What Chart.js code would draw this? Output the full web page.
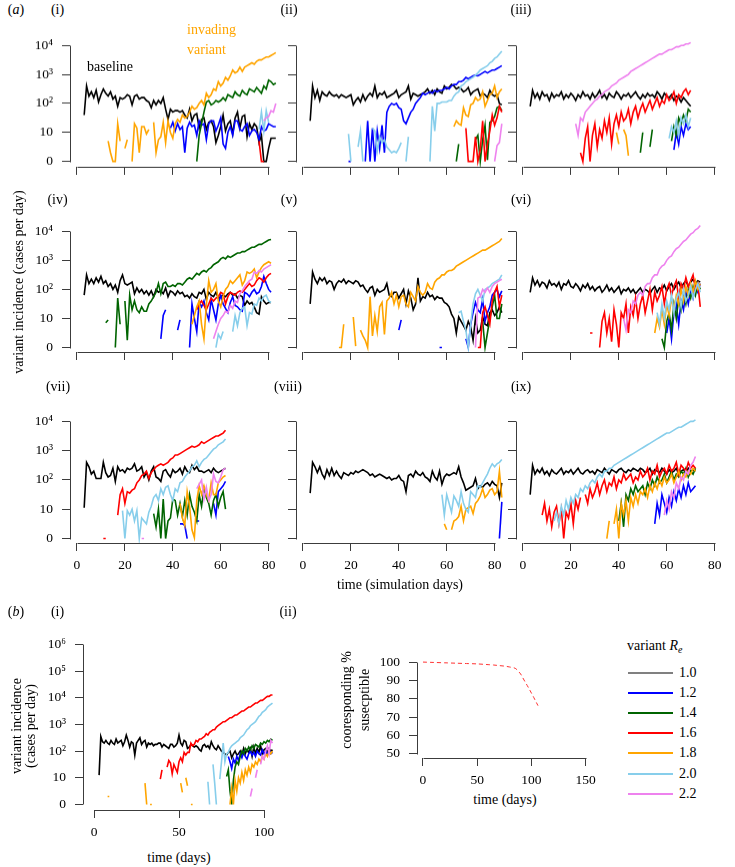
<!DOCTYPE html>
<html><head><meta charset="utf-8">
<script src="https://cdn.jsdelivr.net/npm/chart.js@4.4.1/dist/chart.umd.min.js"></script>
<style>
html,body{margin:0;padding:0;background:#fff}
body{width:735px;height:867px;position:relative;overflow:hidden;font-family:"Liberation Serif","Times New Roman",serif;color:#000}
canvas{position:absolute}
.t{position:absolute;font-size:14px;line-height:14px;white-space:nowrap;transform:translate(-50%,-50%)}
.l{position:absolute;font-size:14px;line-height:14px;white-space:nowrap;transform:translate(0,-50%)}
.rot{position:absolute;font-size:14px;line-height:14px;white-space:nowrap;transform:translate(-50%,-50%) rotate(-90deg)}
.lg{position:absolute;height:0;border-top:2px solid #000;width:45px}
</style></head><body>
<script>
const _ = null;
const RE_LABELS = ['1.0','1.2','1.4','1.6','1.8','2.0','2.2'];
const RE_COLORS = ['#000000','#0000FF','#006400','#FF0000','#FFA500','#87CEEB','#EE82EE'];
const LOG_TICKS_A = [0,1,2,3,4];
const LOG_TICKS_B = [0,1,2,3,4,5,6];
const DAY_TICKS_A = [0,20,40,60,80];
const DAY_TICKS_B = [0,50,100];
const DAY_TICKS_C = [0,50,100,150];
const PCT_TICKS = [50,60,70,80,90,100];
// values: log10 of variant incidence (cases/day); 0 = zero cases. start day + daily values
const i_k0=3,  i_k=[1.6,2.6,2.25,2.4,2.2,2.45,2.05,2.3,2.5,2.35,2.25,2.4,2.15,2.25,1.9,2.2,2.15,2.2,2.3,2.25,1.95,2.25,2.3,2.15,2.2,2.2,2.1,2.05,1.85,2.1,1.95,2.1,2.0,2.2,1.8,1.45,1.8,1.7,1.75,1.75,1.7,1.75,1.6,1.5,1.8,1.4,1.6,1.65,1.15,1.45,1.5,1.1,1.35,1.4,1.2,0.65,0.9,1.2,1.6,1.05,1.3,1.4,0.95,1.5,1.7,1.15,1.55,1.6,0.85,1.3,1.1,1.3,1.2,0.65,0.9,0,0,0.45,0.8,0.8,0.8];
const i_b0=39, i_b=[1.15,1.35,1.05,1.3,1.1,1.2,0.3,1.15,1.35,1.2,1.25,0.9,1.4,1.25,1.3,0.75,1.3,1.4,1.4,1.05,1.25,1.5,0.6,0.45,1.0,1.2,0.9,1.4,1.4,1.1,1.05,1.2,1.3,0.9,1.05,1.1,1.0,0.75,1.2,1.05,1.1,1.3,1.25,1.2,1.2];
const i_g0=50, i_g=[0,0.9,1.3,1.7,2.05,2.1,1.95,2.0,2.1,2.05,2.1,2.2,2.1,2.3,2.25,2.2,2.4,2.3,2.25,2.45,2.35,2.3,2.5,2.45,2.4,2.55,2.45,2.35,2.6,2.5,2.8,2.75,2.65,2.7];
const i_r0=76, i_r=[0.7,0,0];
const i_o0=13, i_o=[0.7,0.3,0,0,1.3,0.7,_,0.45,0.75,_,0,1.3,1.15,0.3,1.2,1.2,0.95,1.1,_,1.35,0.3,0.75,0.85,1.35,0.65,1.4,1.0,0.8,1.3,1.45,1.35,1.6,1.5,1.55,1.7,1.9,1.8,1.85,2.0,2.1,1.95,2.35,2.2,2.3,2.5,2.45,2.75,2.6,2.7,2.9,2.8,2.95,3.15,3.05,3.1,3.25,3.1,3.25,3.3,3.35,3.4,3.35,3.45,3.5,3.5,3.55,3.6,3.6,3.65,3.7,3.75];
const i_s0=76, i_s=[1.1,1.7,1.05,1.75,1.35];
const i_v0=78, i_v=[1.4,1.5,1.55,1.75,1.7,2.0];
const ii_k0=3, ii_k=[1.4,2.6,2.2,2.45,2.1,2.4,2.3,2.25,2.4,2.3,2.25,2.3,2.2,2.3,2.25,2.2,2.25,2.3,1.95,2.1,2.2,2.05,2.3,2.1,2.25,2.35,2.25,2.6,2.2,2.35,2.3,2.4,2.2,2.25,2.3,2.35,2.45,2.2,2.3,2.35,2.4,2.6,2.15,2.35,2.3,2.25,2.3,2.35,2.4,2.5,2.35,2.45,2.3,2.5,2.4,2.35,2.6,2.5,2.55,2.65,2.6,2.5,2.55,2.5,2.4,2.45,2.55,2.3,2.4,2.45,2.5,2.25,2.35,2.3,2.2,2.45,2.3,2.25,2.3,2.0,1.95];
const ii_b0=19, ii_b=[0,0,_,_,_,_,_,0,1.4,0,1.15,0,1.05,0.45,1.25,0.3,1.7,1.9,2.0,1.95,2.0,1.85,1.8,1.4,1.3,1.5,1.7,1.8,2.0,2.1,2.2,2.35,2.3,2.35,2.4,2.35,2.45,2.4,2.45,2.45,2.5,2.55,2.5,2.6,2.65,2.65,2.75,2.75,2.8,2.9,2.85,2.9,2.95,2.97,2.95,3.0,3.05,3.1,3.05,3.1,3.15,3.15,3.2,3.25,3.3];
const ii_g0=64, ii_g=[0,0.6,_,_,_,_,_,_,0.75,0.9,0,0.75,1.25,0.05,1.35,1.4,1.55,1.85,1.9,1.75];
const ii_r0=68, ii_r=[1.15,0,0,0,0.85,0,0.4,1.4,0,0.6,1.05,1.6,1.25,1.5,1.9,1.7];
const ii_o0=63, ii_o=[1.2,1.4,1.3,1.25,1.85,1.6,1.55,1.95,2.0,2.2,2.1,2.15,2.4,1.9,2.1,2.3,2.35,2.6,2.2,2.4,2.5];
const ii_s0=19, ii_s=[0.95,0,_,_,0.5,1.05,0,_,_,_,1.15,1.05,0.35,0.85,0.65,0.75,0.5,0.4,0.3,0.35,0.3,0.45,0.65,_,0,0.85,_,_,_,_,_,_,_,_,0,1.9,1.05,2.0,2.0,2.05,2.05,2.05,2.1,2.1,2.25,2.35,2.4,2.6,2.65,2.75,2.8,2.85,2.9,2.97,3.05,3.15,3.2,3.25,3.3,3.4,3.45,3.55,3.6,3.7,3.8];
const ii_v0=80, ii_v=[0,0.55,0.65,1.3];
const iii_k0=3, iii_k=[1.9,2.45,2.2,2.35,2.15,2.4,2.25,2.3,2.1,2.35,2.2,2.3,2.25,2.4,2.15,2.3,2.2,2.35,2.25,2.1,2.3,2.2,2.4,2.25,2.3,2.15,2.35,2.2,2.3,2.45,2.2,2.3,2.15,2.35,2.25,2.2,2.4,2.3,2.15,2.3,2.25,2.35,2.2,2.3,2.4,2.25,2.15,2.3,2.2,2.35,2.25,2.3,2.2,2.4,2.3,2.15,2.35,2.25,2.2,2.3,2.1,2.25,2.2,2.05,2.2,2.1,2.0,1.9];
const iii_b0=63, iii_b=[0.4,1.0,0.6,1.2,0.9,1.3,1.1,1.2];
const iii_g0=49, iii_g=[0.3,1.0,_,_,0.5,1.1,_,_,_,_,_,_,_,0.7,1.2,0.9,1.5,1.3,1.6,1.4,1.8,1.7];
const iii_r0=24, iii_r=[0.3,0,0.8,1.2,0,0.9,1.3,0.5,1.1,0.8,1.4,1.0,1.5,0.6,1.3,1.6,1.2,1.7,1.4,1.5,1.8,1.3,1.7,1.9,1.5,1.8,2.0,1.7,1.9,2.1,1.8,2.0,2.2,1.9,2.1,2.0,2.3,2.1,2.2,2.4,2.0,2.3,2.2,2.4,2.5,2.3,2.45];
const iii_o0=39, iii_o=[1.0,0.6,_,1.1,0.9,0.2];
const iii_s0=61, iii_s=[0.8,1.2,1.0,1.4,0.9,1.5,1.3,1.6,1.2,1.5];
const iii_v0=22, iii_v=[1.3,0.9,1.5,1.4,1.7,1.8,1.9,2.0,2.1,2.15,2.25,2.3,2.4,2.45,2.5,2.6,2.65,2.7,2.8,2.85,2.9,2.95,3.0,3.1,3.15,3.2,3.25,3.3,3.35,3.4,3.45,3.5,3.55,3.6,3.65,3.7,3.7,3.75,3.8,3.85,3.85,3.9,3.95,3.95,4.0,4.0,4.05,4.05,4.1];
const iv_k0=3, iv_k=[1.8,2.5,2.2,2.35,2.2,2.4,2.25,2.45,2.2,2.3,2.1,2.2,2.0,2.15,1.9,2.3,2.5,2.2,2.15,2.2,2.25,1.85,2.05,1.9,2.0,1.85,1.95,1.8,1.95,1.75,2.0,1.9,1.95,1.85,2.05,1.75,1.95,1.9,1.8,1.95,1.85,1.9,1.75,1.8,1.7,1.85,1.75,1.7,1.9,1.85,2.0,1.65,1.9,1.8,1.75,1.9,1.7,1.75,1.8,1.75,1.85,1.9,1.8,1.85,1.7,1.8,1.75,1.45,1.6,1.5,1.55,1.4,1.2,1.15,1.75,1.6,1.5,1.55,1.55];
const iv_b0=35, iv_b=[0.3,1.1,1.3,_,_,_,_,0.6,0.95,_,_,_,0,1.5,1.0,0.55,1.55,1.4,1.6,1.2,0.95,1.65,1.3,0.95,1.5,1.8,1.5,1.35,1.2,1.55,1.75,1.45,1.4,1.3,1.25,1.9,1.85,1.75,1.9,2.0,1.85,1.9,2.1,2.45,2.2,2.0,1.9];
const iv_g0=12, iv_g=[0.85,0.95,_,_,0,1.7,0.8,_,1.6,0.25,1.8,1.3,1.6,1.3,1.2,1.4,1.25,1.25,1.5,1.6,1.75,1.9,2.2,1.85,2.2,2.25,2.1,2.1,2.15,2.1,2.2,2.2,2.15,2.25,2.35,2.4,2.35,2.45,2.55,2.5,2.6,2.65,2.6,2.7,2.75,2.85,2.9,2.95,3.05,3.1,3.05,3.15,3.1,3.15,3.2,3.25,3.25,3.3,3.3,3.35,3.4,3.45,3.45,3.5,3.55,3.55,3.6,3.65,3.7,3.72];
const iv_r0=50, iv_r=[1.3,1.5,1.6,1.45,1.3,1.5,1.7,1.6,1.7,1.75,1.9,1.85,1.5,1.75,1.9,1.85,1.8,1.9,1.95,1.9,2.0,2.1,2.2,2.1,2.15,2.3,2.4,2.35,2.25,2.4,2.5,2.55];
const iv_o0=48, iv_o=[0.8,1.1,1.4,1.6,0.8,0.3,1.45,2.3,1.9,2.0,2.2,1.6,1.4,1.75,2.0,2.1,2.3,2.2,2.3,2.4,2.5,2.15,2.3,2.6,2.55,2.6,2.7,2.4,2.6,2.75,2.85,2.9,2.95,2.9];
const iv_s0=58, iv_s=[0,0.45,0.3,0.55,_,_,_,0.55,1.1,0.75,1.2,1.35,1.4,0.75,1.2,1.15,1.5,1.45,1.7,1.6,1.75,1.8,1.6,1.55];
const iv_v0=57, iv_v=[0.3,0.55,0.8,1.0,1.1,1.25,1.2,1.45,1.35,1.6,1.55,1.85,1.95,2.1,2.2,2.3,2.35,2.6,2.55,2.65,2.6,2.7,2.75,2.8,2.85];
const v_k0=3, v_k=[1.5,2.6,2.35,2.2,2.4,2.3,2.4,2.2,2.3,2.25,2.0,2.2,2.3,2.25,2.35,2.2,2.3,2.25,2.2,2.3,2.25,2.1,2.15,2.0,1.9,2.05,2.1,1.8,2.0,1.9,1.95,2.0,2.2,1.8,1.75,1.9,1.9,1.7,1.85,2.0,1.5,1.95,1.7,1.3,1.5,2.4,1.6,1.75,1.7,1.9,1.75,1.8,1.65,1.75,1.7,1.7,1.55,1.5,1.4,1.15,1.0,0.5,1.05,0.9,0.75,0.6,0.9,0.7,0.25,1.0,0.5,0.6,1.05,0.8,0.75,1.2,1.3,1.1,1.2,1.4,1.2];
const v_b0=40, v_b=[0.6,0.95,_,_,_,_,_,_,_,_,_,_,_,_,_,_,_,0,0,_,_,_,_,_,_,_,_,_,0.3,0,0.8,1.2,1.55,1.3,1.2,1.65,0.9,1.2,1.4,1.8,1.9,2.0,1.75,1.95];
const v_g0=75, v_g=[0.9,0,0.5,1.0,1.4,1.8,1.0,1.0,1.5];
const v_r0=73, v_r=[0,0,1.2,1.4,1.1,0.8,1.6,1.9,2.1,1.4,1.8];
const v_o0=15, v_o=[0,0,0.8,_,_,_,1.05,0.05,_,0.6,0.4,0.25,0,1.75,0.4,1.1,0.55,1.4,1.55,0.45,1.6,1.7,1.9,1.5,1.8,1.4,1.75,1.8,1.5,1.4,1.9,1.75,1.6,2.1,1.9,1.8,1.9,2.2,2.05,2.0,2.25,2.35,2.4,2.5,2.5,2.6,2.65,2.65,2.7,2.8,2.85,2.9,2.95,3.0,3.05,3.1,3.15,3.2,3.25,3.3,3.35,3.35,3.4,3.45,3.5,3.55,3.6,3.65,3.75];
const v_s0=65, v_s=[1.2,1.25,0.9,0.6,0,0.8,1.5,1.85,2.0,1.8,1.6,2.0,2.05,2.1,2.2,2.25,2.3,2.35,2.5];
const v_v0=72, v_v=[0,1.7,1.75,2.0,1.9,2.05,1.9,2.1,2.2,2.25,2.3,2.35];
const vi_k0=3, vi_k=[1.9,2.4,2.15,2.3,2.1,2.25,2.2,2.05,2.3,2.15,2.2,2.1,2.25,2.0,2.2,2.15,2.3,2.1,2.05,2.2,2.1,1.95,2.15,2.05,2.2,2.0,2.1,1.95,2.05,2.1,1.9,2.0,2.15,1.95,2.05,1.9,2.0,2.1,1.85,2.0,1.95,2.05,1.9,2.0,1.85,1.95,2.05,1.9,2.0,1.95,1.85,2.0,2.1,1.9,2.05,2.0,2.15,1.95,2.1,2.2,2.0,2.15,2.25,2.05,2.2,2.3,2.1,2.25,2.35,2.2,2.3,2.25];
const vi_b0=60, vi_b=[0.5,1.0,0.3,1.2,1.5,0.8,1.6,1.3,1.9,1.5,2.0,1.7,2.1,1.9,2.2];
const vi_g0=58, vi_g=[0.3,0,0.9,1.2,0.6,1.5,1.0,1.7,1.3,1.9,1.5,2.0,1.7,2.1,1.8,2.2,2.0];
const vi_r0=28, vi_r=[0.5,0.5,_,_,0,0.9,1.2,0.5,1.0,0.2,1.3,0.8,0,1.2,1.0,1.5,0.5,1.4,1.1,1.7,1.0,1.5,1.8,1.2,1.6,2.0,1.3,1.9,1.6,1.8,2.1,1.5,2.0,2.2,1.8,2.1,2.3,1.7,2.2,2.0,2.4,2.1,2.3,2.5,2.0,2.2,1.4];
const vi_o0=55, vi_o=[0.5,1.0,0.7,1.3,0.8,1.5,1.1,1.7,1.3,1.8,1.5,2.0,1.6,2.1,1.8,2.2,1.9,2.3,2.0,2.2];
const vi_s0=56, vi_s=[1.2,0.8,1.5,1.0,1.6,1.3,1.8,1.2,1.7,1.9,1.4,2.0,1.6,1.8,2.1,1.7,2.0,2.2,1.9];
const vi_v0=42, vi_v=[1.0,0.6,1.3,1.2,1.6,1.5,1.8,1.9,1.8,2.1,2.2,2.2,2.4,2.5,2.5,2.7,2.8,2.85,3.0,3.1,3.15,3.3,3.4,3.45,3.55,3.65,3.7,3.8,3.9,3.95,4.05,4.1,4.2];
const vii_k0=3, vii_k=[1.05,2.6,2.45,2.2,2.3,2.05,2.05,2.05,2.6,2.25,2.1,2.15,2.4,1.95,2.45,2.3,2.35,2.25,2.4,2.35,2.4,2.55,2.3,2.35,2.45,2.1,2.25,2.0,2.3,2.45,2.1,2.05,1.95,2.3,2.35,2.2,2.1,2.35,2.25,2.3,2.4,2.2,2.45,2.3,2.25,2.5,2.35,2.45,2.3,2.3,2.25,2.3,2.35,2.25,2.4,2.3,2.25,2.3,2.35,2.4];
const vii_b0=43, vii_b=[0.5,0.5,0.45,0,_,_,_,0.6,0.6,_,_,_,_,_,1.2,0.8,1.6,1.7,1.8,1.95];
const vii_g0=32, vii_g=[0.85,0.4,1.0,0,1.35,0,0.6,0.7,1.35,1.3,0.8,1.2,0.75,1.3,0.8,1.5,1.1,0.9,0.6,1.5,1.1,1.7,1.4,1.2,0.8,1.3,1.5,1.1,1.4,1.6,1.0];
const vii_r0=11, vii_r=[0,0,_,_,_,_,0.8,1.5,1.7,1.2,1.6,1.55,1.65,1.7,1.9,2.0,2.15,2.2,2.3,2.05,2.25,2.35,2.45,2.5,2.55,2.5,2.55,2.6,2.7,2.75,2.85,2.85,2.9,2.95,3.0,3.05,3.1,3.15,3.12,3.15,3.2,3.3,3.25,3.3,3.35,3.4,3.45,3.5,3.5,3.55,3.6,3.7];
const vii_o0=43, vii_o=[1.2,0.7,0.45,1.6,1.1,0.3,0.03,1.3,1.8,1.5,1.8,1.5,1.3,1.9,1.5,1.5,1.9,2.0,2.1,2.15];
const vii_s0=19, vii_s=[0.95,0,0.95,0.8,1.0,0.6,0.95,0,0.7,0.6,0.5,0.9,1.1,1.4,1.5,1.3,1.7,1.5,1.75,1.8,1.5,1.3,1.7,1.6,1.9,1.95,2.1,2.2,2.3,2.45,2.5,2.65,2.45,2.6,2.7,2.75,2.85,2.95,3.05,3.1,3.2,3.25,3.3,3.4];
const vii_v0=27, vii_v=[0,0,_,_,_,_,_,_,_,_,_,_,_,_,_,_,_,_,_,_,_,_,_,1.7,1.85,2.0,1.35,1.75,1.3,1.5,2.2,1.95,1.9,2.1,2.35,2.4];
const viii_k0=3, viii_k=[1.55,2.6,2.45,2.25,2.45,2.2,2.05,2.35,2.15,2.4,2.15,2.3,2.15,2.05,2.25,2.2,2.15,2.25,2.2,2.3,2.25,2.3,2.35,2.3,2.25,2.15,2.2,2.1,2.15,2.2,2.15,2.1,2.05,2.1,2.0,2.05,2.05,2.15,2.0,1.95,1.6,2.15,2.2,2.1,2.3,2.2,2.15,2.25,2.1,2.05,1.95,2.3,2.1,2.0,2.3,1.85,2.1,2.2,2.15,2.2,2.25,2.2,2.45,2.1,1.9,1.65,1.7,1.75,1.8,2.05,1.7,1.8,1.75,1.85,1.9,1.8,1.95,1.85,1.8,1.4,1.9];
const viii_b0=82, viii_b=[0,1.25];
const viii_o0=59, viii_o=[0.5,0.3,_,0.3,0.6,0.65,0.75,1.1,0.6,1.0,1.05,1.1,0.85,1.2,1.3,1.45,1.7,1.4,1.5,1.65,1.7,1.5,1.6,2.3,1.4];
const viii_s0=58, viii_s=[1.5,0.8,1.5,1.2,0.9,1.45,1.3,1.1,1.6,1.2,1.0,0.9,1.6,1.5,1.4,1.8,1.75,1.9,2.05,2.2,2.4,2.55,2.45,2.55,2.6,2.7];
const ix_k0=3, ix_k=[1.5,2.5,2.2,2.35,2.25,2.4,2.2,2.3,2.15,2.35,2.25,2.2,2.3,2.4,2.2,2.3,2.25,2.35,2.2,2.3,2.4,2.25,2.2,2.3,2.35,2.25,2.3,2.2,2.35,2.3,2.25,2.4,2.3,2.2,2.35,2.3,2.25,2.35,2.4,2.3,2.25,2.35,2.3,2.4,2.35,2.3,2.4,2.35,2.25,2.3,2.4,2.2,2.35,2.3,2.25,2.4,2.3,2.2,2.35,2.25,2.3,2.4,2.2,2.3,2.35,2.25,2.4,2.3,2.35,2.3];
const ix_b0=55, ix_b=[0.5,1.2,0.8,1.5,1.2,0.9,1.4,1.1,1.6,1.3,1.7,1.4,1.8,1.5,1.9,1.6,1.7,1.8];
const ix_g0=40, ix_g=[0.6,1.2,0.4,1.5,1.3,1.7,1.5,1.8,1.6,1.7,1.8,1.5,1.9,1.7,2.0,1.8,2.1,1.9,2.0,2.2,1.9,2.1,2.3,2.0,2.2,2.1,2.3,2.2,2.4,2.1,2.3,2.2,2.4];
const ix_r0=8, ix_r=[0.8,1.2,0.6,1.0,0.4,0.9,1.1,0.5,1.0,0,0.9,0.7,1.2,0.5,1.3,1.0,1.4,_,1.5,1.2,1.7,1.4,1.6,1.9,1.5,1.8,2.0,1.6,1.9,1.8,2.1,1.7,2.0,1.9,2.2,2.0,2.1,2.2,1.9,2.1,2.0,2.3,2.1,2.2,2.4,2.0,2.3,2.2,2.5,2.1,2.3,2.4,2.2,2.5,2.3,2.4,2.6,2.2,2.5,2.4,2.3,2.6,2.4,2.5,2.4];
const ix_o0=35, ix_o=[0,0.6,_,0.5,1.0,0,1.2,0.8,1.3,0.6,1.4,1.1,1.5,1.2,1.6,1.5,1.7,1.4,1.8,1.6,1.9,1.7,2.0,1.8,2.1,1.9,2.0,2.2,1.9,2.1,2.3,2.0,2.2,2.1,2.3,2.2,2.4,2.3];
const ix_s0=13, ix_s=[0.6,0.9,0.5,1.1,0.8,1.3,1.0,1.4,1.2,1.5,1.4,1.7,1.6,1.8,1.7,1.9,2.0,1.9,2.1,2.2,2.1,2.3,2.3,2.4,2.4,2.5,2.55,2.6,2.65,2.7,2.75,2.8,2.85,2.9,2.95,3.0,3.05,3.1,3.15,3.2,3.25,3.3,3.35,3.4,3.45,3.5,3.55,3.6,3.6,3.65,3.7,3.75,3.8,3.8,3.85,3.9,3.95,4.0,4.0,4.05];
const ix_v0=59, ix_v=[0.8,1.3,1.0,1.6,1.4,1.9,1.7,2.1,2.0,2.3,2.2,2.5,2.6,2.8];
const bi_k0=3, bi_k=[1.1,2.55,2.35,2.3,2.4,2.3,2.25,2.4,2.3,2.25,2.45,2.3,2.35,2.4,2.2,2.35,2.6,2.4,2.15,2.35,2.3,1.85,2.3,2.4,2.5,2.25,2.35,2.4,2.15,2.3,2.25,2.3,2.2,2.25,2.25,2.3,2.3,2.15,2.25,2.2,2.15,2.1,2.25,2.25,2.15,2.2,2.3,2.6,2.3,2.2,2.4,2.35,2.1,2.15,2.25,2.2,2.15,2.2,2.15,2.05,2.0,2.2,2.25,2.15,2.2,2.1,2.35,2.2,2.1,2.05,2.2,2.1,2.0,1.95,1.9,1.85,1.95,2.0,1.75,1.9,2.0,1.85,1.9,2.0,1.85,2.1,1.9,2.05,1.95,2.1,1.8,2.15,1.9,2.1,1.95,2.2,1.9,2.05,2.1,1.95,2.1,2.0,2.05];
const bi_b0=79, bi_b=[1.8,1.6,1.35,1.7,1.55,1.8,1.65,1.9,1.75,1.95,1.8,1.7,1.9,2.0,1.85,1.95,1.8,2.0,1.9,1.85,2.05,1.9,2.0,1.85,2.05,1.9,1.95];
const bi_g0=78, bi_g=[1.05,1.3,0.5,0,0.9,1.4,1.6,1.5,1.8,2.0,1.9,2.1,2.0,2.15,2.05,2.2,2.1,2.25,2.2,2.15,2.3,2.25,2.35,2.3,2.4,2.35,2.45,2.4];
const bi_r0=39, bi_r=[0.95,1.3,_,_,1.4,1.65,1.55,1.15,1.5,1.35,1.2,1.6,1.75,1.6,1.95,1.85,1.95,1.95,2.3,2.2,2.25,2.4,2.35,2.45,2.45,2.5,2.55,2.65,2.6,2.7,2.75,2.8,2.8,2.9,2.95,3.0,3.05,3.1,3.1,3.15,3.2,3.25,3.25,3.3,3.35,3.35,3.4,3.45,3.5,3.5,3.55,3.6,3.65,3.65,3.7,3.75,3.8,3.8,3.85,3.9,3.9,3.95,4.0,4.05,4.05,4.1,4.1];
const bi_o0=8, bi_o=[0.3,0.3,_,_,_,_,_,_,_,_,_,_,_,_,_,_,_,_,_,_,_,_,0.8,0,_,0,0,_,_,_,_,_,_,_,_,_,_,_,_,_,_,_,_,0.8,0.45,_,1.0,0.7,_,0,0,_,_,_,_,_,_,_,_,_,_,_,_,_,_,_,_,_,_,_,_,_,0,0.6,0,0.9,0.5,1.0,0.8,1.2,0.9,1.3,1.1,1.4,1.2,1.5,1.4,1.6,1.5,1.7,1.6,1.8,1.7,1.9,1.8,2.0,1.9,2.0];
const bi_s0=67, bi_s=[0.85,0,_,1.5,0.8,0,_,0.95,1.6,2.3,1.6,1.9,1.95,2.1,2.2,2.25,2.3,2.35,2.4,2.5,2.55,2.6,2.7,2.8,2.85,2.95,3.0,3.05,3.1,3.2,3.3,3.35,3.45,3.5,3.55,3.65,3.7,3.75,3.8];
const bi_v0=92, bi_v=[0.3,0.6,_,1.0,1.3,_,1.5,1.8,1.7,2.0,2.2,1.9,2.4,2.3];
const bii_days=[0,10,20,30,40,50,60,65,70,75,80,85,88,90,92,94,96,98,100,102,104,106];
const bii_pct=[100,99.8,99.6,99.4,99.2,99.0,98.6,98.4,98.1,97.8,97.3,96.6,94.9,93.5,91.4,89.3,87.3,85.2,83.0,80.8,78.5,76.2];

const FONT='"Liberation Serif","Times New Roman",serif';
const AXC='#3c3c3c';
const SUP={2:'\u00B2',3:'\u00B3',4:'\u2074',5:'\u2075',6:'\u2076'};
const logLabel=v=>v===0?'0':(v===1?'10':'10'+SUP[v]);

const rAxes={id:'rAxes',afterDraw(c,args,o){
  const ctx=c.ctx,a=c.chartArea,x=c.scales.x,y=c.scales.y;
  ctx.save();ctx.strokeStyle=AXC;ctx.lineWidth=1;ctx.beginPath();
  const yb=Math.round(a.bottom)+0.5, xl=Math.round(a.left)+0.5;
  ctx.moveTo(Math.round(x.getPixelForValue(o.xt[0]))+0.5,yb);
  ctx.lineTo(Math.round(x.getPixelForValue(o.xt[o.xt.length-1]))+0.5,yb);
  ctx.moveTo(xl,Math.round(y.getPixelForValue(o.yt[0]))+0.5);
  ctx.lineTo(xl,Math.round(y.getPixelForValue(o.yt[o.yt.length-1]))+0.5);
  ctx.stroke();ctx.restore();}};

function ser(color,start,arr,extra){return Object.assign({data:arr.map((v,j)=>({x:start+j,y:v})),borderColor:color,borderWidth:1.6,pointRadius:0,fill:false,spanGaps:false,tension:0},extra||{});}

function panel(p){
  const ML=64,MB=34,MT=2,MR=2;
  const W=ML+(p.right-p.axisX)+MR,H=MT+(p.axisY-p.top)+MB;
  const cv=document.createElement('canvas');
  cv.width=W;cv.height=H;cv.style.width=W+'px';cv.style.height=H+'px';
  cv.style.left=(p.axisX-ML)+'px';cv.style.top=(p.top-MT)+'px';
  document.body.appendChild(cv);
  const ds=p.series.map((s,i)=>{s.order=-i;return s;});
  new Chart(cv,{type:'line',data:{datasets:ds},options:{
    responsive:false,animation:false,devicePixelRatio:1,events:[],
    layout:{padding:{left:0,top:MT,right:MR,bottom:0}},
    plugins:{legend:{display:false},tooltip:{enabled:false},rAxes:{xt:p.xt,yt:p.yt}},
    scales:{
      x:{type:'linear',min:(p.axisX-p.x0)/p.xs,max:(p.right-p.x0)/p.xs,
        afterBuildTicks:s=>{s.ticks=p.xt.map(v=>({value:v}));},
        afterFit:s=>{s.height=MB;},
        border:{display:false},
        grid:{drawOnChartArea:false,drawTicks:true,tickLength:8,tickColor:AXC,tickWidth:1},
        ticks:{autoSkip:false,maxRotation:0,minRotation:0,padding:6,color:'#000',font:{family:FONT,size:13.5},callback:v=>p.showX?String(v):''}},
      y:{type:'linear',min:(p.y0-p.axisY)/p.ys,max:(p.y0-p.top)/p.ys,
        afterBuildTicks:s=>{s.ticks=p.yt.map(v=>({value:v}));},
        afterFit:s=>{s.width=ML;},
        border:{display:false},
        grid:{drawOnChartArea:false,drawTicks:true,tickLength:8,tickColor:AXC,tickWidth:1},
        ticks:{autoSkip:false,padding:9,color:'#000',font:{family:FONT,size:13.5},callback:v=>p.showY?p.fmt(v):''}}
    }},plugins:[rAxes]});
}

const C=RE_COLORS;
const COLS=[{axisX:70,x0:77},{axisX:296,x0:303},{axisX:516,x0:523}];
const ROWS=[{axisY:167,y0:161,ys:32.3},{axisY:352,y0:347,ys:32.5},{axisY:543,y0:538,ys:32.7}];
const GRID=[
 [[C[0],i_k0,i_k],[C[1],i_b0,i_b],[C[2],i_g0,i_g],[C[3],i_r0,i_r],[C[4],i_o0,i_o],[C[5],i_s0,i_s],[C[6],i_v0,i_v]],
 [[C[0],ii_k0,ii_k],[C[1],ii_b0,ii_b],[C[2],ii_g0,ii_g],[C[3],ii_r0,ii_r],[C[4],ii_o0,ii_o],[C[5],ii_s0,ii_s],[C[6],ii_v0,ii_v]],
 [[C[0],iii_k0,iii_k],[C[1],iii_b0,iii_b],[C[2],iii_g0,iii_g],[C[3],iii_r0,iii_r],[C[4],iii_o0,iii_o],[C[5],iii_s0,iii_s],[C[6],iii_v0,iii_v]],
 [[C[0],iv_k0,iv_k],[C[1],iv_b0,iv_b],[C[2],iv_g0,iv_g],[C[3],iv_r0,iv_r],[C[4],iv_o0,iv_o],[C[5],iv_s0,iv_s],[C[6],iv_v0,iv_v]],
 [[C[0],v_k0,v_k],[C[1],v_b0,v_b],[C[2],v_g0,v_g],[C[3],v_r0,v_r],[C[4],v_o0,v_o],[C[5],v_s0,v_s],[C[6],v_v0,v_v]],
 [[C[0],vi_k0,vi_k],[C[1],vi_b0,vi_b],[C[2],vi_g0,vi_g],[C[3],vi_r0,vi_r],[C[4],vi_o0,vi_o],[C[5],vi_s0,vi_s],[C[6],vi_v0,vi_v]],
 [[C[0],vii_k0,vii_k],[C[1],vii_b0,vii_b],[C[2],vii_g0,vii_g],[C[3],vii_r0,vii_r],[C[4],vii_o0,vii_o],[C[5],vii_s0,vii_s],[C[6],vii_v0,vii_v]],
 [[C[0],viii_k0,viii_k],[C[1],viii_b0,viii_b],[C[4],viii_o0,viii_o],[C[5],viii_s0,viii_s]],
 [[C[0],ix_k0,ix_k],[C[1],ix_b0,ix_b],[C[2],ix_g0,ix_g],[C[3],ix_r0,ix_r],[C[4],ix_o0,ix_o],[C[5],ix_s0,ix_s],[C[6],ix_v0,ix_v]]
];
GRID.forEach((list,k)=>{
  const c=COLS[k%3],r=ROWS[Math.floor(k/3)];
  panel({axisX:c.axisX,x0:c.x0,xs:2.4,right:c.x0+2.4*86,axisY:r.axisY,y0:r.y0,ys:r.ys,top:r.y0-r.ys*4.35,
    xt:DAY_TICKS_A,yt:LOG_TICKS_A,showX:k>=6,showY:k%3===0,fmt:logLabel,
    series:list.map(s=>ser(s[0],s[1],s[2]))});
});
panel({axisX:83,x0:94,xs:1.7,right:312,axisY:810,y0:804,ys:29,top:620,xt:DAY_TICKS_B,yt:LOG_TICKS_B,showX:true,showY:true,fmt:logLabel,
  series:[ser(C[0],bi_k0,bi_k),ser(C[1],bi_b0,bi_b),ser(C[2],bi_g0,bi_g),ser(C[3],bi_r0,bi_r),ser(C[4],bi_o0,bi_o),ser(C[5],bi_s0,bi_s),ser(C[6],bi_v0,bi_v)]});
panel({axisX:417,x0:423,xs:1.087,right:600,axisY:758,y0:858,ys:2.1,top:640,xt:DAY_TICKS_C,yt:PCT_TICKS,showX:true,showY:true,fmt:v=>String(v),
  series:[{data:bii_days.map((d,j)=>({x:d,y:bii_pct[j]})),borderColor:'#FF3030',borderWidth:1,borderDash:[4,3],pointRadius:0,fill:false,tension:0.3}]});

function T(cls,html,x,y,style){const d=document.createElement('div');d.className=cls;d.innerHTML=html;d.style.left=x+'px';d.style.top=y+'px';if(style)d.style.cssText+=';'+style;document.body.appendChild(d);return d;}
T('t','(<i>a</i>)',16,10);
T('t','(i)',57.5,10);T('t','(ii)',289,10);T('t','(iii)',521,10);
T('t','(iv)',57.5,200);T('t','(v)',289,200);T('t','(vi)',521,200);
T('t','(vii)',58,387);T('t','(viii)',288,387);T('t','(ix)',521,387);
T('t','(<i>b</i>)',16,612);T('t','(i)',57.5,612);T('t','(ii)',288,612);
T('l','baseline',87,67);
T('l','invading',187,30,'color:#FFA500');T('l','variant',187,50,'color:#FFA500');
T('rot','variant incidence (cases per day)',19,282);
T('t','time (simulation days)',400,585);
T('rot','variant incidence',17,726);T('rot','(cases per day)',31,726);
T('t','time (days)',179,858);
T('rot','cooresponding %',347,700);T('rot','susecptible',365,700);
T('t','time (days)',505,800);
T('l','variant <i>R<sub style="font-size:10px">e</sub></i>',627,648);
RE_LABELS.forEach((lab,i)=>{
  const y=673+20.1*i;
  const ln=document.createElement('div');ln.className='lg';ln.style.left='628px';ln.style.top=(y-1)+'px';ln.style.borderTopColor=i===0?'#808080':RE_COLORS[i];document.body.appendChild(ln);
  T('l',lab,679,y);
});
</script>
</body></html>
